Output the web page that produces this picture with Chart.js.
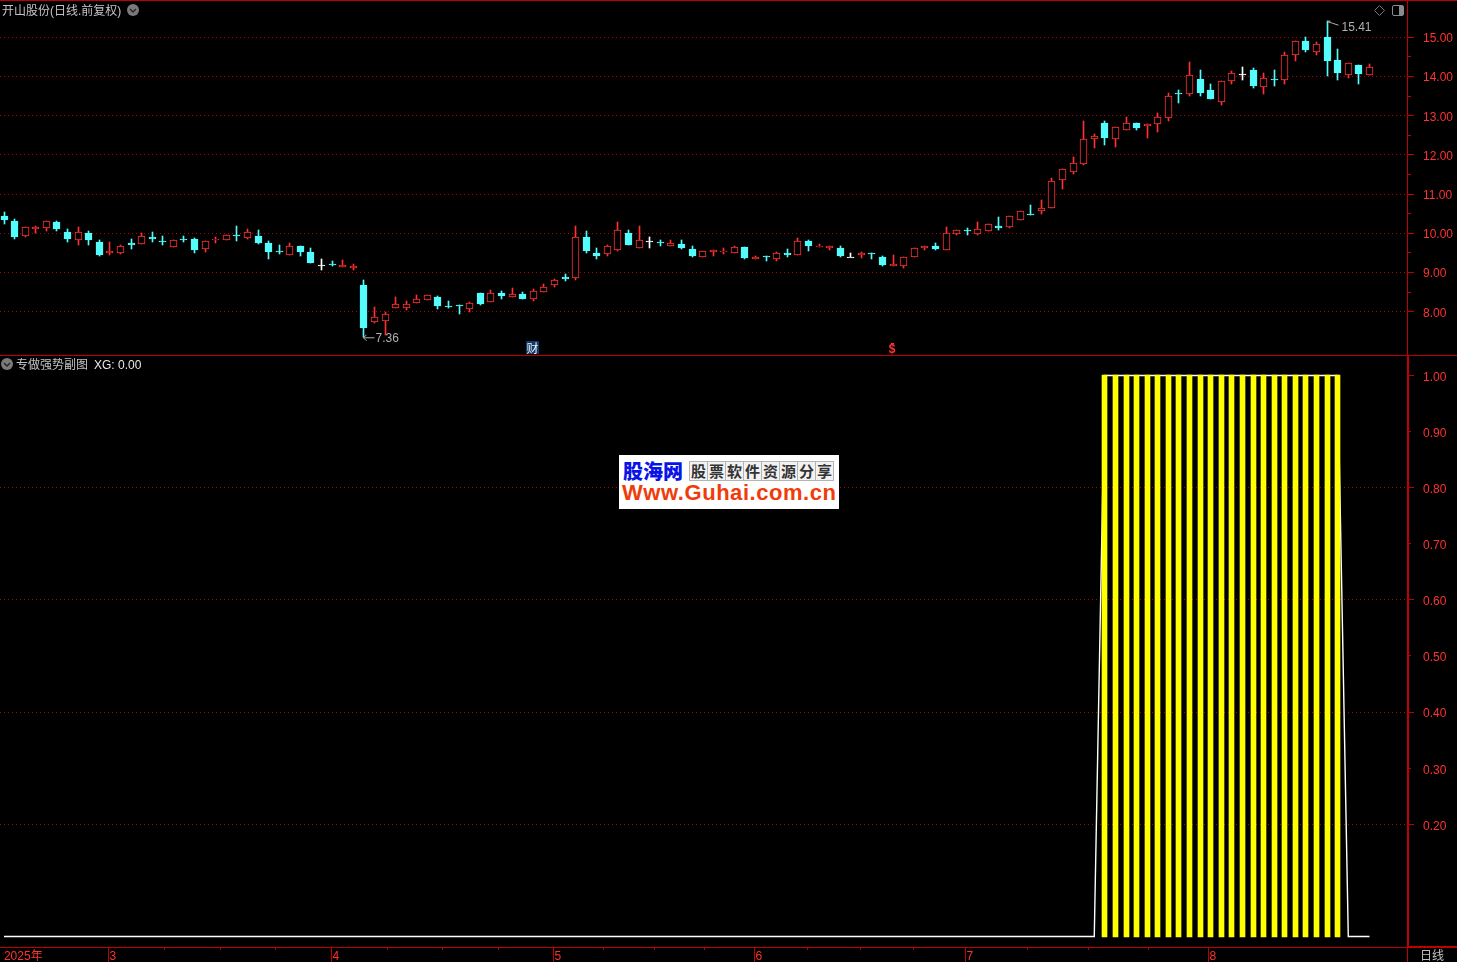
<!DOCTYPE html>
<html>
<head>
<meta charset="utf-8">
<title>开山股份</title>
<script src="https://cdn.jsdelivr.net/npm/chart.js@4"></script>
<style>
  html, body { margin: 0; padding: 0; background: #000; overflow: hidden; }
  #stage { position: relative; width: 1457px; height: 962px; background: #000; font: 12px "Liberation Sans", "Noto Sans CJK SC", sans-serif; }
  canvas { position: absolute; left: 0; display: block; }
  #cPreco { top: 0; }
  #cXg { top: 356px; }
  .linha { position: absolute; background: #c00000; }
  .txt { position: absolute; color: #c4c4c4; white-space: nowrap; line-height: 14px; }
  .ico { position: absolute; }
  #marca { position: absolute; left: 619px; top: 455px; width: 220px; height: 54px; background: #fff; overflow: hidden; }
  #marca .nome { position: absolute; left: 4px; top: 2px; font: 900 20px "Noto Sans CJK SC"; line-height: 28px; color: #0a14e6; }
  #marca .slogan { position: absolute; left: 71px; top: 6px; display: flex; }
  #marca .slogan span { width: 17px; height: 18px; border: 1px solid #b4b4b4; margin-left: -1px; font: 700 15px "Noto Sans CJK SC"; line-height: 18px; text-align: center; color: #333; background: #f2f2f2; }
  #marca .site { position: absolute; left: 3px; top: 27px; font: 700 22px "Liberation Sans"; line-height: 22px; color: #f03c0a; letter-spacing: 0.55px; }
</style>
</head>
<body>
<div id="stage">
  <canvas id="cPreco" width="1457" height="355"></canvas>
  <canvas id="cXg" width="1457" height="606"></canvas>

  <div class="linha" style="left:0;top:0;width:1457px;height:1px"></div>
  <div class="linha" style="left:0;top:355px;width:1457px;height:1px"></div>
  <div class="linha" style="left:0;top:947px;width:1408px;height:1px"></div>
  <div class="linha" style="left:1408px;top:946px;width:49px;height:2px"></div>
  <div class="linha" style="left:1407px;top:0;width:1px;height:355px"></div>
  <div class="linha" style="left:1407px;top:356px;width:2px;height:591px"></div>
  <div class="linha" style="left:1407px;top:947px;width:1px;height:15px"></div>

  <div class="txt" style="left:2px;top:4px">开山股份(日线.前复权)</div>
  <div class="txt" style="left:16px;top:358px">专做强势副图</div>
  <div class="txt" style="left:94px;top:358px;color:#e8e8e8">XG: 0.00</div>
  <div class="txt" style="left:1420px;top:949px">日线</div>

  <svg class="ico" style="left:127px;top:4px" width="12" height="12"><circle cx="6" cy="6" r="6" fill="#7a7a7a"/><path d="M3 5l3 3 3-3" stroke="#222" stroke-width="1.3" fill="none"/></svg>
  <svg class="ico" style="left:1px;top:358px" width="12" height="12"><circle cx="6" cy="6" r="6" fill="#7a7a7a"/><path d="M3 5l3 3 3-3" stroke="#222" stroke-width="1.3" fill="none"/></svg>
  <svg class="ico" style="left:1374px;top:5px" width="11" height="11"><path d="M5.5 0.5l5 5-5 5-5-5z" stroke="#777" fill="none"/></svg>
  <svg class="ico" style="left:1392px;top:5px" width="12" height="11"><rect x="0.5" y="0.5" width="11" height="10" rx="1.5" stroke="#8a8a8a" fill="none"/><rect x="7" y="1" width="4" height="9" fill="#8a8a8a"/></svg>

  <div id="marca">
    <div class="nome">股海网</div>
    <div class="slogan"><span>股</span><span>票</span><span>软</span><span>件</span><span>资</span><span>源</span><span>分</span><span>享</span></div>
    <div class="site">Www.Guhai.com.cn</div>
  </div>
</div>

<script>
var abertura = [10.44,10.31,9.93,10.11,10.14,10.29,10.03,9.83,10.01,9.78,
  9.50,9.50,9.75,9.73,9.91,9.80,9.65,9.85,9.86,9.60,
  9.84,9.83,9.95,9.88,9.93,9.75,9.54,9.45,9.68,9.52,
  9.18,9.21,9.14,9.12,8.68,7.74,7.76,8.10,8.10,8.22,
  8.30,8.38,8.14,8.16,8.07,8.48,8.25,8.48,8.38,8.45,
  8.32,8.50,8.68,8.89,8.86,9.91,9.50,9.47,9.57,10.01,
  9.63,9.80,9.77,9.68,9.73,9.60,9.40,9.52,9.53,9.50,
  9.65,9.35,9.41,9.35,9.50,9.45,9.80,9.65,9.63,9.63,
  9.40,9.45,9.49,9.40,9.17,9.17,9.40,9.63,9.68,9.57,
  9.98,10.08,9.98,10.06,10.19,10.16,10.34,10.50,10.57,10.64,
  11.35,11.56,11.78,12.40,12.81,12.40,12.63,12.81,12.74,12.80,
  12.93,13.58,13.56,13.94,13.66,13.34,13.88,14.06,14.17,13.72,
  13.93,13.90,14.54,14.91,14.63,15.01,14.42,14.05,14.29,14.05];

var fechamento = [10.34,9.91,10.16,10.16,10.31,10.11,9.86,10.03,9.83,9.45,
  9.55,9.68,9.70,9.93,9.86,9.79,9.83,9.84,9.57,9.80,
  9.85,9.96,9.94,10.03,9.75,9.52,9.53,9.68,9.52,9.24,
  9.18,9.20,9.19,9.17,7.58,7.87,7.94,8.20,8.20,8.32,
  8.43,8.15,8.13,8.15,8.22,8.20,8.48,8.40,8.45,8.32,
  8.53,8.63,8.81,8.83,9.91,9.55,9.42,9.68,10.08,9.70,
  9.83,9.80,9.76,9.75,9.63,9.42,9.55,9.57,9.54,9.65,
  9.37,9.40,9.40,9.50,9.45,9.80,9.68,9.68,9.68,9.42,
  9.40,9.50,9.48,9.19,9.22,9.40,9.63,9.68,9.60,10.01,
  10.09,10.07,10.11,10.24,10.14,10.44,10.57,10.49,10.64,11.33,
  11.63,11.79,12.41,12.47,12.43,12.70,12.81,12.69,12.79,12.97,
  13.50,13.57,14.03,13.58,13.43,13.88,14.08,14.06,13.76,13.95,
  13.92,14.54,14.90,14.68,14.83,14.40,14.09,14.34,14.06,14.23];

var maximas = [10.54,10.37,10.16,10.19,10.31,10.31,10.11,10.16,10.06,9.83,
  9.78,9.70,9.86,10.01,10.03,9.93,9.83,9.93,9.88,9.80,
  9.91,9.96,10.19,10.11,10.09,9.80,9.70,9.75,9.68,9.63,
  9.35,9.29,9.32,9.22,8.81,8.12,7.99,8.38,8.27,8.43,
  8.43,8.40,8.27,8.16,8.25,8.48,8.55,8.53,8.60,8.50,
  8.58,8.71,8.83,8.96,10.19,10.06,9.63,9.70,10.29,10.08,
  10.19,9.91,9.83,9.83,9.83,9.68,9.55,9.57,9.63,9.68,
  9.65,9.42,9.41,9.52,9.60,9.88,9.83,9.73,9.68,9.68,
  9.50,9.52,9.49,9.42,9.45,9.40,9.63,9.68,9.75,10.16,
  10.09,10.14,10.29,10.24,10.42,10.44,10.57,10.72,10.85,11.41,
  11.63,11.95,12.87,12.53,12.87,12.70,12.97,12.81,12.79,13.07,
  13.58,13.66,14.37,14.17,13.81,13.88,14.14,14.24,14.22,14.09,
  14.17,14.63,14.90,15.01,14.88,15.41,14.70,14.34,14.29,14.32];

var minimas = [10.24,9.85,9.91,10.01,10.06,10.06,9.78,9.70,9.70,9.42,
  9.45,9.47,9.60,9.73,9.78,9.70,9.65,9.78,9.50,9.52,
  9.75,9.83,9.80,9.86,9.73,9.35,9.47,9.45,9.42,9.24,
  9.06,9.17,9.14,9.06,7.36,7.71,7.41,8.10,8.04,8.22,
  8.30,8.07,8.09,7.94,7.99,8.17,8.25,8.32,8.38,8.32,
  8.27,8.50,8.63,8.78,8.81,9.50,9.34,9.42,9.55,9.70,
  9.63,9.63,9.68,9.68,9.60,9.40,9.40,9.42,9.47,9.50,
  9.35,9.35,9.29,9.29,9.40,9.45,9.55,9.65,9.57,9.40,
  9.40,9.37,9.35,9.17,9.17,9.12,9.40,9.57,9.57,9.57,
  9.96,9.96,9.96,10.06,10.09,10.14,10.34,10.47,10.49,10.64,
  11.14,11.52,11.75,12.18,12.25,12.20,12.63,12.64,12.43,12.59,
  12.87,13.33,13.50,13.50,13.43,13.27,13.81,13.91,13.71,13.55,
  13.76,13.81,14.40,14.63,14.55,14.01,13.91,13.96,13.81,14.05];

var xg = [0,0,0,0,0,0,0,0,0,0, 0,0,0,0,0,0,0,0,0,0,
  0,0,0,0,0,0,0,0,0,0, 0,0,0,0,0,0,0,0,0,0,
  0,0,0,0,0,0,0,0,0,0, 0,0,0,0,0,0,0,0,0,0,
  0,0,0,0,0,0,0,0,0,0, 0,0,0,0,0,0,0,0,0,0,
  0,0,0,0,0,0,0,0,0,0, 0,0,0,0,0,0,0,0,0,0,
  0,0,0,0,1,1,1,1,1,1, 1,1,1,1,1,1,1,1,1,1,
  1,1,1,1,1,1,1,0,0,0];

var ticksPreco = [15,14.5,14,13.5,13,12.5,12,11.5,11,10.5,10,9.5,9,8.5,8];
var ticksXg = [1,0.9,0.8,0.7,0.6,0.5,0.4,0.3,0.2];
var gradeXg = [0.8,0.6,0.4,0.2];

var ticksData = [-0.1,9.87,15.16,20.45,25.65,30.94,36.23,41.43,46.72,51.91,56.64,61.45,66.18,70.9,75.91,80.92,85.92,90.84,96.69,102.46,108.13,113.8];
var rotulosData = ["2025年","3","","","","4","","","","5","","","","6","","","","7","","","","8"];

var idxMaxima = 125, idxMinima = 34, idxCai = 50, idxDolar = 84;

var VERMELHO = "#ff3232", CIANO = "#54fcfc", GRADE = "#b00000", FONTE = '"Liberation Sans"';
var X_MIN = -0.3779, X_MAX = 132.64;

function corCandle(i) {
  if (fechamento[i] > abertura[i]) return VERMELHO;
  if (fechamento[i] < abertura[i]) return CIANO;
  return "#ffffff";
}

// corpo e pavio como barras flutuantes
var pavios = maximas.map(function (h, i) { return { x: i, y: [minimas[i], h] }; });
var corpos = abertura.map(function (o, i) { return { x: i, y: [Math.min(o, fechamento[i]), Math.max(o, fechamento[i])] }; });
var pontosXg = xg.map(function (v, i) { return { x: i, y: v }; });

// tira a margem que o chart.js reserva para os rotulos dos eixos
function semMargem(s) {
  s.paddingTop = 0;
  s.paddingBottom = 0;
  s.paddingLeft = 0;
  s.paddingRight = 0;
}

// alinha as barras na grade de pixels, a referencia nao tem antialias
var pluginPixel = {
  id: "pluginPixel",
  afterDatasetsUpdate: function (chart) {
    chart.data.datasets.forEach(function (ds, k) {
      if (ds.type === "line") return;
      chart.getDatasetMeta(k).data.forEach(function (el) {
        var topo = Math.round(Math.min(el.y, el.base) - 0.01);
        var base = Math.round(Math.max(el.y, el.base) + 0.01);
        if (base === topo) base = topo + 1;
        el.x = Math.floor(el.x) + 0.5;
        el.y = topo;
        el.base = base;
      });
    });
  }
};

// marcas curtas e longas dos eixos
function criaMarcas(ehLonga) {
  return {
    id: "pluginMarcas",
    afterDraw: function (chart) {
      var ctx = chart.ctx, y = chart.scales.y, x = chart.scales.x;
      ctx.save();
      ctx.strokeStyle = "#c00000";
      ctx.lineWidth = 1;
      ctx.beginPath();
      y.ticks.forEach(function (t) {
        var py = Math.floor(y.getPixelForValue(t.value)) + 0.5;
        ctx.moveTo(1408, py);
        ctx.lineTo(1408 + (ehLonga(t.value) ? 6 : 3), py);
      });
      if (x.options.display) {
        x.ticks.forEach(function (t, i) {
          if (i === 0) return;
          var px = Math.floor(x.getPixelForValue(t.value)) + 0.5;
          ctx.moveTo(px, 591);
          ctx.lineTo(px, t.label ? 606 : 594);
        });
      }
      ctx.stroke();
      ctx.restore();
    }
  };
}

// rotulos de maxima e minima e os sinais em cima do eixo
var pluginRotulos = {
  id: "pluginRotulos",
  afterDraw: function (chart) {
    var ctx = chart.ctx, x = chart.scales.x, y = chart.scales.y;
    var xh = Math.floor(x.getPixelForValue(idxMaxima)) + 0.5, yh = y.getPixelForValue(maximas[idxMaxima]);
    var xl = Math.floor(x.getPixelForValue(idxMinima)) + 0.5, yl = y.getPixelForValue(minimas[idxMinima]);
    ctx.save();
    ctx.strokeStyle = "#b0b0b0";
    ctx.fillStyle = "#b0b0b0";
    ctx.lineWidth = 1;
    ctx.font = "12px " + FONTE;
    ctx.textBaseline = "middle";
    ctx.beginPath();
    ctx.moveTo(xh, yh);
    ctx.lineTo(xh + 3, yh);
    ctx.moveTo(xh, yh + 0.5);
    ctx.lineTo(xh + 5, yh + 2);
    ctx.lineTo(xh + 11, yh + 4);
    ctx.moveTo(xl, yl + 1);
    ctx.lineTo(xl + 11, yl + 1);
    ctx.moveTo(xl, yl + 1);
    ctx.lineTo(xl + 3, yl - 2);
    ctx.moveTo(xl, yl + 1);
    ctx.lineTo(xl + 3, yl + 4);
    ctx.stroke();
    ctx.fillText(maximas[idxMaxima].toFixed(2), xh + 14, yh + 6);
    ctx.fillText(minimas[idxMinima].toFixed(2), xl + 12, yl + 2);

    var xc = Math.floor(x.getPixelForValue(idxCai));
    ctx.fillStyle = "#0b3a6b";
    ctx.fillRect(xc - 7, 341, 13, 13);
    ctx.fillStyle = "#f0f0f0";
    ctx.textAlign = "center";
    ctx.font = '12px "Noto Sans CJK SC"';
    ctx.fillText("财", xc - 0.5, 348);
    var xd = Math.floor(x.getPixelForValue(idxDolar));
    ctx.fillStyle = VERMELHO;
    ctx.font = "bold 12px " + FONTE;
    ctx.fillText("$", xd - 1, 349.5);
    ctx.fillRect(xd - 2, 343, 3, 1);
    ctx.restore();
  }
};

new Chart(document.getElementById("cPreco"), {
  type: "bar",
  data: {
    datasets: [
      { label: "pavio", data: pavios, barThickness: 1, grouped: false, order: 2,
        backgroundColor: maximas.map(function (h, i) { return corCandle(i); }) },
      { label: "corpo", data: corpos, barThickness: 7, grouped: false, order: 1, borderSkipped: false, borderWidth: 1,
        borderColor: abertura.map(function (o, i) { return corCandle(i); }),
        backgroundColor: abertura.map(function (o, i) { return fechamento[i] > o ? "#000000" : corCandle(i); }) }
    ]
  },
  options: {
    responsive: false,
    animation: false,
    events: [],
    layout: { padding: 0 },
    plugins: {
      legend: { display: false },
      title: { display: false },
      tooltip: { enabled: false }
    },
    scales: {
      x: { type: "linear", min: X_MIN, max: X_MAX, offset: false, display: false, grid: { display: false } },
      y: {
        position: "right",
        min: 6.8954,
        max: 15.9515,
        offset: false,
        afterFit: function (s) { s.width = 49; semMargem(s); },
        afterBuildTicks: function (s) { s.ticks = ticksPreco.map(function (v) { return { value: v }; }); },
        border: { display: false, dash: [1, 3] },
        grid: {
          drawTicks: false,
          color: function (c) { return c.tick && c.tick.value % 1 === 0 ? GRADE : "rgba(0,0,0,0)"; }
        },
        ticks: {
          autoSkip: false,
          padding: 15,
          labelOffset: 1.5,
          color: VERMELHO,
          font: { family: FONTE, size: 12 },
          callback: function (v) { return v % 1 === 0 ? v.toFixed(2) : ""; }
        }
      }
    }
  },
  plugins: [pluginPixel, criaMarcas(function (v) { return v % 1 === 0; }), pluginRotulos]
});

new Chart(document.getElementById("cXg"), {
  type: "bar",
  data: {
    datasets: [
      { type: "bar", label: "XG", data: pontosXg.filter(function (p) { return p.y > 0; }), barThickness: 5, backgroundColor: "#ffff00", order: 1 },
      { type: "line", label: "XG linha", data: pontosXg, borderColor: "#ffffff", borderWidth: 1.4, pointRadius: 0, tension: 0, order: 2 }
    ]
  },
  options: {
    responsive: false,
    animation: false,
    events: [],
    layout: { padding: 0 },
    plugins: {
      legend: { display: false },
      title: { display: false },
      tooltip: { enabled: false }
    },
    scales: {
      x: {
        type: "linear",
        min: X_MIN,
        max: X_MAX,
        offset: false,
        afterFit: function (s) { s.height = 15; semMargem(s); },
        afterBuildTicks: function (s) { s.ticks = ticksData.map(function (v) { return { value: v }; }); },
        afterTickToLabelConversion: function (s) { s.ticks.forEach(function (t, i) { t.label = rotulosData[i]; }); },
        border: { display: false },
        grid: { display: false, drawTicks: false },
        ticks: {
          autoSkip: false,
          maxRotation: 0,
          minRotation: 0,
          align: "start",
          labelOffset: 1,
          padding: 2,
          color: VERMELHO,
          font: { family: '"Liberation Sans", "Noto Sans CJK SC"', size: 12 }
        }
      },
      y: {
        position: "right",
        min: -0.01872,
        max: 1.03476,
        offset: false,
        afterFit: function (s) { s.width = 49; semMargem(s); },
        afterBuildTicks: function (s) { s.ticks = ticksXg.map(function (v) { return { value: v }; }); },
        border: { display: false, dash: [1, 3] },
        grid: {
          drawTicks: false,
          color: function (c) { return c.tick && gradeXg.indexOf(c.tick.value) >= 0 ? GRADE : "rgba(0,0,0,0)"; }
        },
        ticks: {
          autoSkip: false,
          padding: 15,
          labelOffset: 2,
          color: VERMELHO,
          font: { family: FONTE, size: 12 },
          callback: function (v) { return v.toFixed(2); }
        }
      }
    }
  },
  plugins: [pluginPixel, criaMarcas(function (v) { return Math.round(v * 10) % 2 === 0; })]
});
</script>
</body>
</html>
